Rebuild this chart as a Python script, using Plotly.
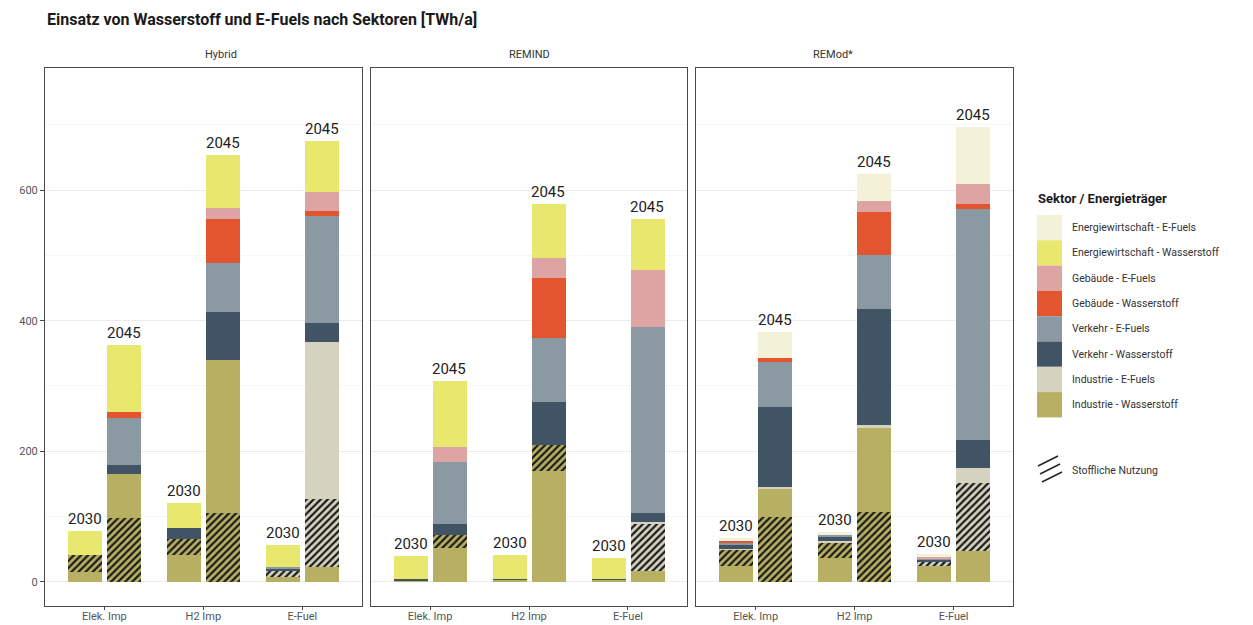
import plotly.graph_objects as go
from plotly.subplots import make_subplots

# Modelle / Szenarien / Jahre
modelle = ['Hybrid', 'REMIND', 'REMod*']
szenarien = ['Elek. Imp', 'H2 Imp', 'E-Fuel']
jahre = ['2030', '2045']

# Werte in TWh/a, Reihenfolge: Modell -> Szenario -> Jahr (2030, 2045)
# Industrie - Wasserstoff unterhalb der stofflichen Nutzung
ind_h2_unten = [15, 0, 41, 0, 8, 22,
                2, 52, 3, 170, 3, 17,
                24, 0, 37, 0, 24, 47]
# Industrie - Wasserstoff, stoffliche Nutzung
ind_h2_stoff = [26, 98, 25, 105, 0, 0,
                0, 19, 0, 39, 0, 0,
                25, 99, 24, 107, 0, 0]
# Industrie - Wasserstoff oberhalb der stofflichen Nutzung
ind_h2_oben = [0, 67, 0, 235, 0, 0,
               0, 0, 0, 0, 0, 0,
               0, 44, 0, 128, 0, 0]
# Industrie - E-Fuels, stoffliche Nutzung
ind_ef_stoff = [0, 0, 0, 0, 8, 105,
                0, 0, 0, 0, 0, 73,
                0, 0, 0, 0, 6, 104]
ind_ef = [0, 0, 0, 0, 0, 241,
          0, 0, 0, 0, 0, 2,
          2, 3, 2, 5, 0, 24]
ver_h2 = [0, 14, 17, 74, 4, 29,
          2, 18, 2, 67, 2, 13,
          6, 122, 7, 178, 4, 43]
ver_ef = [0, 72, 0, 75, 2, 163,
          0, 94, 0, 97, 0, 285,
          4, 68, 2, 82, 2, 353]
geb_h2 = [0, 9, 0, 67, 0, 8,
          0, 0, 0, 93, 0, 0,
          1, 7, 0, 67, 0, 8]
geb_ef = [0, 0, 0, 16, 0, 29,
          0, 23, 0, 30, 0, 88,
          0, 0, 0, 16, 2, 30]
ew_h2 = [37, 103, 38, 82, 35, 78,
         35, 101, 36, 82, 32, 77,
         0, 0, 0, 0, 0, 0]
ew_ef = [0, 0, 0, 0, 0, 0,
         0, 0, 0, 0, 0, 0,
         5, 40, 4, 42, 4, 87]

FONT = 'Roboto'
c_ind_h2 = '#b7b062'
c_ind_ef = '#d5d3c0'

# (Werte, Farbe, schraffiert)
stapel = [
    (ind_h2_unten, c_ind_h2, False),
    (ind_h2_stoff, c_ind_h2, True),
    (ind_h2_oben, c_ind_h2, False),
    (ind_ef_stoff, c_ind_ef, True),
    (ind_ef, c_ind_ef, False),
    (ver_h2, '#415466', False),
    (ver_ef, '#8b99a3', False),
    (geb_h2, '#e2552f', False),
    (geb_ef, '#dea3a3', False),
    (ew_h2, '#e7e86d', False),
    (ew_ef, '#f3f1d8', False),
]

legende = [
    ('Energiewirtschaft - E-Fuels', '#f3f1d8'),
    ('Energiewirtschaft - Wasserstoff', '#e7e86d'),
    ('Gebäude - E-Fuels', '#dea3a3'),
    ('Gebäude - Wasserstoff', '#e2552f'),
    ('Verkehr - E-Fuels', '#8b99a3'),
    ('Verkehr - Wasserstoff', '#415466'),
    ('Industrie - E-Fuels', c_ind_ef),
    ('Industrie - Wasserstoff', c_ind_h2),
]

# page has an 8px body margin -> work in window pixels, shift by OFF
OFF = 8
W, H = 1253 - OFF, 625 - OFF
ML, MR, MT, MB = 45 - OFF, 240, 68 - OFF, 19
PW = W - ML - MR
PH = H - MT - MB

fig = make_subplots(rows=1, cols=3, shared_yaxes=True)

bw = 0.345
off = 0.195
xpos = [g + (j - 0.5) * 2 * off for g in range(len(szenarien)) for j in range(len(jahre))]
n = len(szenarien) * len(jahre)

for m in range(len(modelle)):
    for vals, col, hatch in stapel:
        y = vals[m * n:(m + 1) * n]
        marker = dict(color=col, line=dict(width=0))
        if hatch:
            marker['pattern'] = dict(shape='/', fgcolor='#1a1a1a', bgcolor=col,
                                     size=5, solidity=0.45, fillmode='replace')
        fig.add_trace(go.Bar(x=xpos, y=y, width=bw, marker=marker,
                             showlegend=False, hoverinfo='skip'),
                      row=1, col=m + 1)
    # Jahreslabels über den Säulen
    for k in range(n):
        total = sum(vals[m * n + k] for vals, _, _ in stapel)
        fig.add_annotation(x=xpos[k], y=total, text=jahre[k % 2],
                           xref=f'x{m + 1}' if m else 'x', yref=f'y{m + 1}' if m else 'y',
                           showarrow=False, yanchor='bottom', yshift=1,
                           font=dict(family=FONT, size=15, color='#222'))

fig.update_layout(barmode='stack')

pw = 316.7
gap = (PW - 3 * pw) / 2
for m in range(len(modelle)):
    x0 = m * (pw + gap) / PW
    x1 = (m * (pw + gap) + pw) / PW
    fig.update_xaxes(domain=[x0, x1], range=[-0.6, 2.6], tickvals=list(range(3)),
                     ticktext=szenarien, showline=True, mirror=True, automargin=False,
                     linecolor='#4a4a4a', linewidth=1, ticks='outside', ticklen=3,
                     ticklabelstandoff=-3,
                     tickcolor='#4a4a4a', showgrid=False, zeroline=False,
                     tickfont=dict(family=FONT, size=11, color='#555'),
                     row=1, col=m + 1)
    fig.update_yaxes(range=[-37, 787], tickvals=[0, 200, 400, 600], automargin=False,
                     showline=True, mirror=True, linecolor='#4a4a4a', linewidth=1,
                     showgrid=True, gridcolor='#ececec', gridwidth=1, zeroline=False,
                     minor=dict(tickvals=[100, 300, 500, 700], showgrid=True,
                                gridcolor='#f6f6f6', ticks=''),
                     ticks='outside' if m == 0 else '', ticklen=4, tickcolor='#4a4a4a',
                     tickfont=dict(family=FONT, size=11, color='#555'),
                     row=1, col=m + 1)
    fig.add_annotation(x=(x0 + x1) / 2, y=1, xref='paper', yref='paper',
                       text=modelle[m], showarrow=False, yanchor='bottom', yshift=5,
                       font=dict(family=FONT, size=11, color='#333'))


def px_x(p):
    return (p - OFF - ML) / PW


def px_y(p):
    return (H - MB - (p - OFF)) / PH


# Titel
fig.add_annotation(x=px_x(45), y=px_y(20), xref='paper', yref='paper', xanchor='left',
                   yanchor='middle', showarrow=False,
                   text='<b>Einsatz von Wasserstoff und E-Fuels nach Sektoren [TWh/a]</b>',
                   font=dict(family=FONT, size=16, color='#1a1a1a'))

# Legende
fig.add_annotation(x=px_x(1036), y=px_y(199), xref='paper', yref='paper', xanchor='left',
                   yanchor='middle', showarrow=False, text='<b>Sektor / Energieträger</b>',
                   font=dict(family=FONT, size=13, color='#1a1a1a'))
top = 215
step = 25.3
for i, (name, col) in enumerate(legende):
    y0 = top + i * step
    fig.add_shape(type='rect', xref='paper', yref='paper',
                  x0=px_x(1037), x1=px_x(1062), y0=px_y(y0), y1=px_y(y0 + step),
                  fillcolor=col, line=dict(width=0))
    fig.add_annotation(x=px_x(1070), y=px_y(y0 + step / 2), xref='paper', yref='paper',
                       xanchor='left', yanchor='middle', showarrow=False, text=name,
                       font=dict(family=FONT, size=10.5, color='#333'))

# Schraffur-Legende
for k in range(3):
    fig.add_shape(type='line', xref='paper', yref='paper',
                  x0=px_x(1038 + k * 2), y0=px_y(466 + k * 8),
                  x1=px_x(1058 + k * 2), y1=px_y(456 + k * 8),
                  line=dict(color='#222', width=1.5))
fig.add_annotation(x=px_x(1070), y=px_y(470), xref='paper', yref='paper',
                   xanchor='left', yanchor='middle', showarrow=False,
                   text='Stoffliche Nutzung',
                   font=dict(family=FONT, size=10.5, color='#333'))

fig.update_layout(width=W, height=H, margin=dict(l=ML, r=MR, t=MT, b=MB),
                  plot_bgcolor='white', paper_bgcolor='white', bargap=0,
                  font=dict(family=FONT))

fig.write_html('out.html')
